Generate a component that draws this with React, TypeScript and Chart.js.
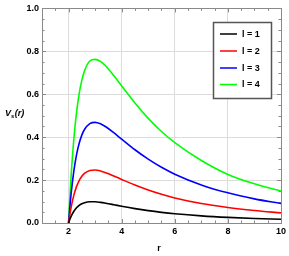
import React, { useEffect, useRef } from "react";
import { Chart, registerables } from "chart.js";

Chart.register(...registerables);

const radius = [2, 2.05, 2.1, 2.2, 2.3, 2.4, 2.5, 2.6, 2.8, 3.0, 3.2, 3.4, 3.7, 4, 4.5, 5, 5.5, 6, 7, 8, 9, 10];
const vL1 = [0, 0.0173, 0.0319, 0.0546, 0.0708, 0.082, 0.0896, 0.0945, 0.0989, 0.0988, 0.0961, 0.0922, 0.0853, 0.0781, 0.0671, 0.0576, 0.0497, 0.0432, 0.0333, 0.0262, 0.0211, 0.0178];
const vL2 = [0, 0.0405, 0.0751, 0.1298, 0.1694, 0.1977, 0.2176, 0.2311, 0.2447, 0.2469, 0.2426, 0.2347, 0.2195, 0.2031, 0.1768, 0.1536, 0.1335, 0.1165, 0.0905, 0.0725, 0.0585, 0.047];
const vL3 = [0, 0.0753, 0.1399, 0.2425, 0.3173, 0.3713, 0.4096, 0.4359, 0.4633, 0.4691, 0.4624, 0.4484, 0.4209, 0.3906, 0.3414, 0.2976, 0.2595, 0.2275, 0.1775, 0.1405, 0.1125, 0.091];
const vL4 = [0, 0.1217, 0.2263, 0.3927, 0.5146, 0.6028, 0.6656, 0.709, 0.7549, 0.7624, 0.7533, 0.7314, 0.6874, 0.6386, 0.5589, 0.4876, 0.4264, 0.3746, 0.2915, 0.2265, 0.1825, 0.149];
const seriesLabels = ["l = 1", "l = 2", "l = 3", "l = 4"];
const seriesColors = ["#000000", "#ff0000", "#0000ff", "#00ff00"];
const xMajorTicks = [2, 4, 6, 8, 10];
const yMajorTicks = [0, 0.2, 0.4, 0.6, 0.8, 1.0];

const FONT = "'Liberation Sans', Arial, sans-serif";
const FRAME = "#8a8a8a";

const framePlugin = {
  id: "frameTicks",
  beforeDatasetsDraw(chart: any) {
    const { ctx, chartArea: a, scales } = chart;
    const xs = scales.x;
    const ys = scales.y;
    ctx.save();
    ctx.strokeStyle = FRAME;
    ctx.lineWidth = 1;
    for (let v = 1.5; v < 10; v += 0.5) {
      const major = Math.abs(v / 2 - Math.round(v / 2)) < 1e-6;
      const len = major ? 4 : 2.5;
      const px = Math.round(xs.getPixelForValue(v)) + 0.5;
      ctx.beginPath();
      ctx.moveTo(px, a.bottom);
      ctx.lineTo(px, a.bottom - len);
      ctx.moveTo(px, a.top);
      ctx.lineTo(px, a.top + len);
      ctx.stroke();
    }
    for (let i = 1; i < 20; i++) {
      const v = i * 0.05;
      const major = i % 4 === 0;
      const len = major ? 4 : 2.5;
      const py = Math.round(ys.getPixelForValue(v)) + 0.5;
      ctx.beginPath();
      ctx.moveTo(a.left, py);
      ctx.lineTo(a.left + len, py);
      ctx.moveTo(a.right, py);
      ctx.lineTo(a.right - len, py);
      ctx.stroke();
    }
    ctx.strokeRect(Math.round(a.left) + 0.5, Math.round(a.top) + 0.5, Math.round(a.right - a.left), Math.round(a.bottom - a.top));
    ctx.restore();
  },
  afterDraw(chart: any) {
    const { ctx } = chart;
    ctx.save();
    const ty = 114;
    let x = 5;
    ctx.fillStyle = "#000";
    ctx.textBaseline = "middle";
    ctx.textAlign = "left";
    ctx.font = `italic bold 9px ${FONT}`;
    ctx.fillText("V", x, ty);
    x += ctx.measureText("V").width;
    ctx.font = `italic bold 6px ${FONT}`;
    ctx.fillText("s", x, ty + 2.5);
    x += ctx.measureText("s").width + 0.5;
    ctx.font = `italic bold 9px ${FONT}`;
    ctx.fillText("(r)", x, ty);
    ctx.font = `bold 9px ${FONT}`;
    ctx.textAlign = "center";
    ctx.fillText("r", 159, 249);
    const bx = 213, by = 22, bw = 58, bh = 76;
    ctx.fillStyle = "#fff";
    ctx.fillRect(bx, by, bw, bh);
    ctx.strokeStyle = "#555";
    ctx.lineWidth = 1.5;
    ctx.strokeRect(bx + 0.5, by + 0.5, bw, bh);
    const rows = [34, 51, 68, 84.5];
    chart.data.datasets.forEach((ds: any, i: number) => {
      const yy = rows[i];
      ctx.strokeStyle = ds.borderColor;
      ctx.lineWidth = 1.5;
      ctx.beginPath();
      ctx.moveTo(220, yy);
      ctx.lineTo(237, yy);
      ctx.stroke();
      ctx.fillStyle = "#000";
      ctx.textAlign = "left";
      ctx.textBaseline = "middle";
      ctx.font = `bold 9px ${FONT}`;
      ctx.fillText(ds.label, 242, yy + 0.5);
    });
    ctx.restore();
  },
};

export default function App() {
  const ref = useRef<HTMLCanvasElement>(null);
  useEffect(() => {
    document.body.style.margin = "0";
    if (!ref.current) return;
    const series = [vL1, vL2, vL3, vL4];
    const chart = new Chart(ref.current, {
      type: "line",
      data: {
        datasets: series.map((s, i) => ({
          label: seriesLabels[i],
          data: radius.map((r, j) => ({ x: r, y: s[j] })),
          borderColor: seriesColors[i],
          backgroundColor: seriesColors[i],
          borderWidth: 1.6,
          pointRadius: 0,
          cubicInterpolationMode: "monotone" as const,
          fill: false,
        })),
      },
      options: {
        responsive: false,
        animation: false,
        events: [],
        layout: { padding: { top: 6, right: 7, left: 0, bottom: 0 } },
        plugins: { legend: { display: false }, tooltip: { enabled: false } },
        scales: {
          x: {
            type: "linear",
            min: 1,
            max: 10,
            afterBuildTicks: (s: any) => {
              s.ticks = xMajorTicks.map((v) => ({ value: v }));
            },
            afterFit: (s: any) => {
              s.height = 33;
            },
            border: { display: false },
            grid: {
              drawTicks: false,
              color: (c: any) => (c.tick && c.tick.value < 10 ? "#dcdcdc" : "rgba(0,0,0,0)"),
              lineWidth: 1,
            },
            ticks: {
              padding: 3,
              color: "#000",
              maxRotation: 0,
              font: { family: FONT, size: 9, weight: "bold" },
              callback: (v: any) => String(v),
            },
          },
          y: {
            type: "linear",
            min: 0,
            max: 1,
            afterBuildTicks: (s: any) => {
              s.ticks = yMajorTicks.map((v) => ({ value: v }));
            },
            afterFit: (s: any) => {
              s.width = 42;
            },
            border: { display: false },
            grid: {
              drawTicks: false,
              color: (c: any) =>
                c.tick && c.tick.value > 0.01 && c.tick.value < 0.99 ? "#dcdcdc" : "rgba(0,0,0,0)",
              lineWidth: 1,
            },
            ticks: {
              padding: 3,
              color: "#000",
              font: { family: FONT, size: 9, weight: "bold" },
              callback: (v: any) => Number(v).toFixed(1),
            },
          },
        },
      },
      plugins: [framePlugin],
    });
    return () => chart.destroy();
  }, []);
  return (
    <div style={{ width: 289, height: 256 }}>
      <canvas ref={ref} width={289} height={256} style={{ display: "block" }} />
    </div>
  );
}
